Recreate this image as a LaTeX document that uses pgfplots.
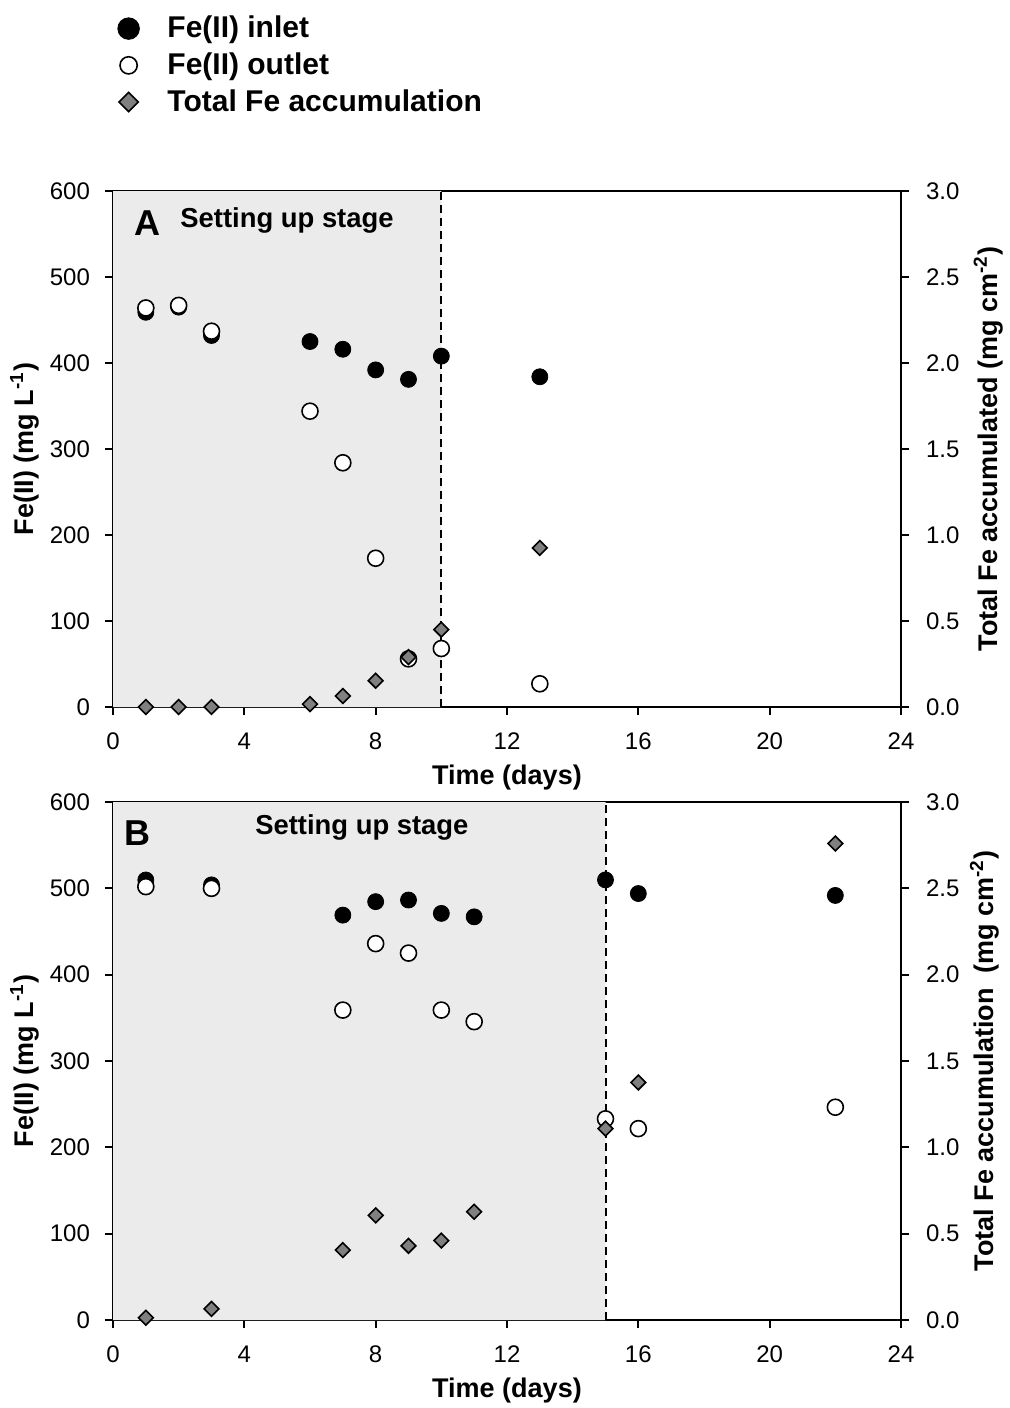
\documentclass[border=0pt]{standalone}
\usepackage{fontspec}
\setmainfont{Liberation Sans}
\usepackage{pgfplots}
\usepackage{pgfplotstable}
\pgfplotsset{compat=1.18}
\definecolor{shade}{HTML}{EBEBEB}
\definecolor{dgray}{HTML}{808080}

% panel A
\pgfplotstableread{
day inlet outlet
1 459 464
2 465 467
3 432 437
6 425 344
7 416 284
8 392 173
9 381 56
10 408 68
13 384 27
}\tabA
\pgfplotstableread{
day acc
1 0.00
2 0.00
3 0.00
6 0.017
7 0.064
8 0.153
9 0.29
10 0.45
13 0.925
}\accA
% panel B
\pgfplotstableread{
day inlet outlet
1 509.7 502
3 504 500
7 469 359
8 484.6 436
9 486.5 425
10 471 359
11 467 345.6
15 509.8 233
16 494 221.7
22 491.8 246.5
}\tabB
\pgfplotstableread{
day acc
1 0.013
3 0.065
7 0.405
8 0.606
9 0.43
10 0.46
11 0.627
15 1.108
16 1.376
22 2.76
}\accB

\pgfplotsset{
  panel/.style={
    width=394pt, scale only axis,
    xmin=0, xmax=24, xtick={0,4,...,24},
    tick align=outside, major tick length=4pt,
    axis line style={line width=0.9pt},
    tick style={line width=0.9pt, black},
    tick label style={font=\fontsize{12}{14}\selectfont},
    xticklabel shift=5.5pt,
    label style={font=\fontsize{13.5}{16}\selectfont\bfseries},
    /pgf/number format/assume math mode=true,
  },
  inl/.style={only marks, mark=*, mark size=4pt, mark options={fill=black, draw=black}},
  outl/.style={only marks, mark=*, mark size=4pt, mark options={fill=white, draw=black, line width=0.8pt}},
  acc/.style={only marks, mark=square*, mark size=2.6pt, mark options={rotate=45, fill=dgray, draw=black, line width=0.8pt}},
  vline/.style={line width=1pt, dash pattern=on 4pt off 2.5pt},
}

\begin{document}
\begin{tikzpicture}
% ---- panel A, left axis
\begin{axis}[panel, at={(56.5pt,-353.5pt)}, anchor=south west, height=258pt,
  ymin=0, ymax=600, ytick={0,100,...,600},
  xtick pos=bottom, ytick pos=left, yticklabel shift=4pt,
  xlabel={Time (days)}, ylabel={Fe(II) (mg L\textsuperscript{-1})},
  xlabel style={at={(axis description cs:0.5,-0.1376)}, anchor=center},
  ylabel style={at={(axis description cs:-0.112,0.5)}, anchor=center},
  legend style={at={(-0.002,1.355)}, anchor=north west, draw=none, fill=none,
    font=\fontsize{15}{18}\selectfont\bfseries, row sep=2pt,
    /tikz/every odd column/.append style={column sep=12pt}},
  legend cell align=left]
\addplot[fill=shade, draw=none, forget plot] coordinates {(0,0) (10,0) (10,600) (0,600)} \closedcycle;
\addplot[vline, forget plot] coordinates {(10,0) (10,600)};
\addplot[inl, forget plot] table[x=day, y=inlet] {\tabA};
\addplot[outl, forget plot] table[x=day, y=outlet] {\tabA};
\addlegendimage{inl, mark size=5.4pt}
\addlegendimage{outl, mark size=4.3pt}
\addlegendimage{acc, mark size=3.4pt}
\legend{Fe(II) inlet, Fe(II) outlet, Total Fe accumulation}
\node[font=\fontsize{18}{20}\selectfont\bfseries] at (axis cs:1.04,563) {A};
\node[font=\fontsize{13.7}{16}\selectfont\bfseries] at (axis cs:5.3,566) {Setting up stage};
\end{axis}
% ---- panel A, right axis
\begin{axis}[panel, at={(56.5pt,-353.5pt)}, anchor=south west, height=258pt,
  axis y line*=right, axis x line=none,
  ymin=0, ymax=3, ytick={0,0.5,...,3}, yticklabel shift=5pt,
  yticklabel style={/pgf/number format/.cd, fixed, fixed zerofill, precision=1},
  ylabel={Total Fe accumulated (mg cm\textsuperscript{-2})},
  ylabel style={at={(axis description cs:1.111,0.5)}, anchor=center}]
\addplot[acc] table[x=day, y=acc] {\accA};
\end{axis}

% ---- panel B, left axis
\begin{axis}[panel, at={(56.5pt,-660pt)}, anchor=south west, height=259pt,
  ymin=0, ymax=600, ytick={0,100,...,600},
  xtick pos=bottom, ytick pos=left, yticklabel shift=4pt,
  xlabel={Time (days)}, ylabel={Fe(II) (mg L\textsuperscript{-1})},
  xlabel style={at={(axis description cs:0.5,-0.137)}, anchor=center},
  ylabel style={at={(axis description cs:-0.112,0.5)}, anchor=center}]
\addplot[fill=shade, draw=none] coordinates {(0,0) (15,0) (15,600) (0,600)} \closedcycle;
\addplot[vline] coordinates {(15,0) (15,600)};
\addplot[inl] table[x=day, y=inlet] {\tabB};
\addplot[outl] table[x=day, y=outlet] {\tabB};
\node[font=\fontsize{18}{20}\selectfont\bfseries] at (axis cs:0.76,564) {B};
\node[font=\fontsize{13.7}{16}\selectfont\bfseries] at (axis cs:7.58,570) {Setting up stage};
\end{axis}
% ---- panel B, right axis
\begin{axis}[panel, at={(56.5pt,-660pt)}, anchor=south west, height=259pt,
  axis y line*=right, axis x line=none,
  ymin=0, ymax=3, ytick={0,0.5,...,3}, yticklabel shift=5pt,
  yticklabel style={/pgf/number format/.cd, fixed, fixed zerofill, precision=1},
  ylabel={Total Fe accumulation\ \ (mg cm\textsuperscript{-2})},
  ylabel style={at={(axis description cs:1.106,0.5)}, anchor=center}]
\addplot[acc] table[x=day, y=acc] {\accB};
\end{axis}
\pgfresetboundingbox
\path[use as bounding box] (0pt,0pt) rectangle (504.5pt,-704pt);
\end{tikzpicture}
\end{document}
